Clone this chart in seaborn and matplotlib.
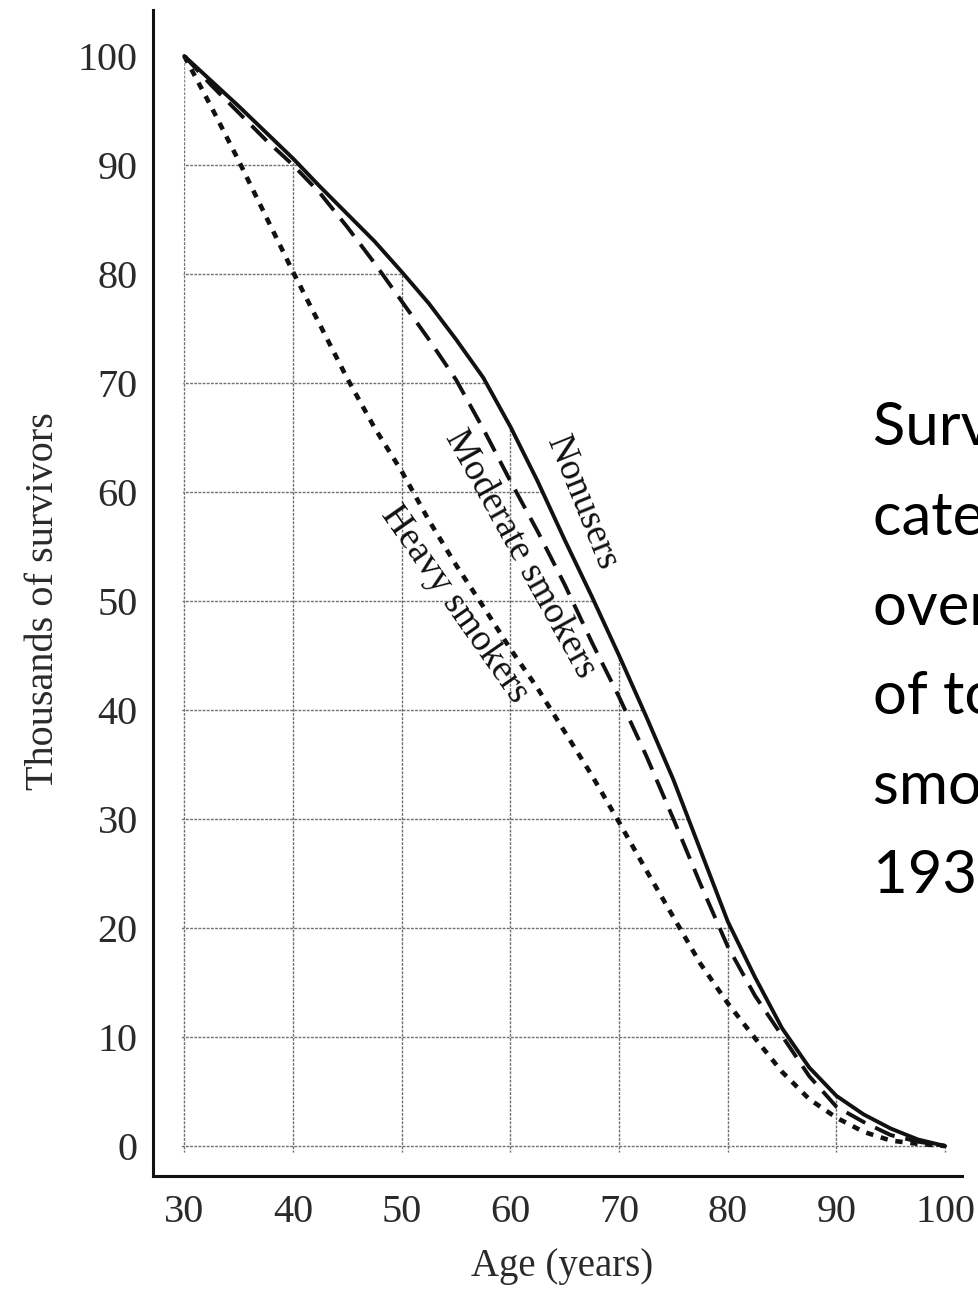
import matplotlib
matplotlib.use("Agg")
import matplotlib.pyplot as plt
from matplotlib.patches import Polygon
import numpy as np
import pandas as pd
import seaborn as sns

# Survivors (thousands, of 100,000 alive at 30)
ages = [30, 32.5, 35, 37.5, 40, 42.5, 45, 47.5, 50, 52.5, 55, 57.5, 60, 62.5, 65,
        67.5, 70, 72.5, 75, 77.5, 80, 82.5, 85, 87.5, 90, 92.5, 95, 97.5, 100]
nonusers = [100, 97.7, 95.4, 93.0, 90.6, 88.0, 85.5, 83.0, 80.2, 77.3, 74.0, 70.5, 66.0,
            61.0, 55.6, 50.4, 45.0, 39.4, 33.6, 27.1, 20.6, 15.5, 10.8, 7.2, 4.6, 2.9, 1.6, 0.6, 0]
moderate = [100, 97.3, 94.8, 92.3, 90.0, 87.4, 84.3, 81.0, 77.5, 74.0, 70.3, 65.8, 61.0,
            56.4, 51.5, 46.2, 41.2, 35.8, 30.0, 24.0, 18.3, 13.8, 10.1, 6.4, 3.6, 2.2, 1.0, 0.4, 0]
heavy = [100, 95.3, 90.4, 85.3, 80.2, 75.3, 70.4, 65.9, 61.9, 57.4, 53.3, 49.5, 45.6,
         42.0, 38.0, 34.0, 29.7, 25.3, 21.0, 16.7, 13.1, 9.9, 6.8, 4.3, 2.6, 1.3, 0.5, 0.2, 0]

x_ticks = [30, 40, 50, 60, 70, 80, 90, 100]
y_ticks = [0, 10, 20, 30, 40, 50, 60, 70, 80, 90, 100]

side_lines = ["Survival curves for", "categories of men", "over the age of 30",
              "of tobacco use", "smokers and nonusers,", "1938 (Pearl)"]

df = pd.DataFrame({
    "age": ages * 3,
    "survivors": nonusers + moderate + heavy,
    "group": ["Nonusers"] * len(ages) + ["Moderate smokers"] * len(ages) + ["Heavy smokers"] * len(ages),
})

sns.set_theme(style="white")
plt.rcParams["font.family"] = ["Liberation Serif", "DejaVu Serif"]

fig = plt.figure(figsize=(9.79, 12.94), dpi=100)
ax = fig.add_axes([153 / 979, 1 - 1176 / 1294, (962 - 153) / 979, (1176 - 10) / 1294])

# grid only under the nonusers curve
clip = Polygon(np.column_stack([[ages[0] - 0.3] + ages + [ages[-1] + 0.3],
                                [-0.6] + nonusers + [-0.6]]),
               closed=True, transform=ax.transData, facecolor="none", edgecolor="none")
ax.add_patch(clip)
vl = ax.vlines(x_ticks, -1, 101, colors="#707070", linewidth=1.0, linestyles=(0, (2, 1)))
hl = ax.hlines(y_ticks, 29, 101, colors="#707070", linewidth=1.0, linestyles=(0, (2, 1)))
vl.set_clip_path(clip)
hl.set_clip_path(clip)

sns.lineplot(data=df[df.group == "Nonusers"], x="age", y="survivors", ax=ax,
             color="#111111", linewidth=2.8, linestyle="-")
sns.lineplot(data=df[df.group == "Moderate smokers"], x="age", y="survivors", ax=ax,
             color="#111111", linewidth=2.8, linestyle=(0, (5.5, 2.8)))
sns.lineplot(data=df[df.group == "Heavy smokers"], x="age", y="survivors", ax=ax,
             color="#111111", linewidth=3.3, linestyle=(0, (1.6, 1.7)))

# curve labels written along the lines
lab_kw = dict(fontsize=27, color="#111111", ha="center", va="center", rotation_mode="anchor")
ax.text(66.6, 59.0, "Nonusers", rotation=-68, **lab_kw)
ax.text(60.9, 54.3, "Moderate smokers", rotation=-61, **lab_kw)
ax.text(54.9, 49.7, "Heavy smokers", rotation=-55, **lab_kw)

ax.set_xlim(27.12, 101.55)
ax.set_ylim(-2.75, 104.22)
ax.set_xticks(x_ticks)
ax.set_yticks(y_ticks)
ax.tick_params(axis="both", direction="in", length=8, width=1.6, labelsize=29,
               labelcolor="#2a2a2a", color="#111111")
ax.tick_params(axis="x", pad=13)
ax.tick_params(axis="y", pad=11)
ax.set_xlabel("Age (years)", fontsize=28, color="#2a2a2a")
ax.set_ylabel("Thousands of survivors", fontsize=29, color="#2a2a2a")
ax.xaxis.set_label_coords(0.506, -0.062)
ax.yaxis.set_label_coords(-0.113, 0.493)

sns.despine(ax=ax)
for side in ["left", "bottom"]:
    ax.spines[side].set_linewidth(2.2)
    ax.spines[side].set_color("#111111")
ax.grid(False)

# caption on the right, cut off by the page edge as in the source slide
for i, line in enumerate(side_lines):
    fig.text(873 / 979, 1 - (445 + i * 89.6) / 1294, line, fontsize=43,
             family=["Lato", "DejaVu Sans"], color="black", ha="left", va="baseline")

fig.savefig("out.png", dpi=100, facecolor="white")
